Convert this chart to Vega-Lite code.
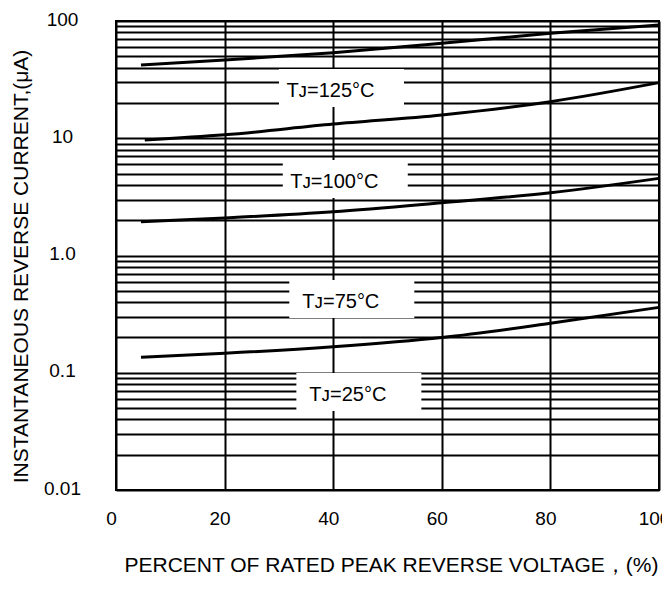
{
  "$schema": "https://vega.github.io/schema/vega-lite/v6.json",
  "autosize": "none",
  "width": 543,
  "height": 469,
  "padding": {"left": 116, "top": 21, "right": 3, "bottom": 102},
  "background": "white",
  "config": {
    "font": "Liberation Sans",
    "view": {"stroke": "black", "strokeWidth": 2}
  },
  "datasets": {
    "curves": [
      {"tj": "125", "pct": 4.6, "ir": 42.2},
      {"tj": "125", "pct": 20, "ir": 46.4},
      {"tj": "125", "pct": 40, "ir": 53.7},
      {"tj": "125", "pct": 60, "ir": 64.5},
      {"tj": "125", "pct": 80, "ir": 78.5},
      {"tj": "125", "pct": 100, "ir": 92.4},
      {"tj": "100", "pct": 5.3, "ir": 9.66},
      {"tj": "100", "pct": 20, "ir": 10.7},
      {"tj": "100", "pct": 40, "ir": 13.2},
      {"tj": "100", "pct": 60, "ir": 15.8},
      {"tj": "100", "pct": 80, "ir": 20.5},
      {"tj": "100", "pct": 100, "ir": 29.8},
      {"tj": "75", "pct": 4.6, "ir": 1.94},
      {"tj": "75", "pct": 20, "ir": 2.09},
      {"tj": "75", "pct": 40, "ir": 2.36},
      {"tj": "75", "pct": 60, "ir": 2.82},
      {"tj": "75", "pct": 80, "ir": 3.43},
      {"tj": "75", "pct": 100, "ir": 4.55},
      {"tj": "25", "pct": 4.6, "ir": 0.1355},
      {"tj": "25", "pct": 20, "ir": 0.1466},
      {"tj": "25", "pct": 40, "ir": 0.167},
      {"tj": "25", "pct": 60, "ir": 0.2},
      {"tj": "25", "pct": 80, "ir": 0.264},
      {"tj": "25", "pct": 100, "ir": 0.361}
    ],
    "labels": [
      {"label": "Tᴊ=125°C", "pct": 39.5, "ir": 25.3},
      {"label": "Tᴊ=100°C", "pct": 40.2, "ir": 4.24},
      {"label": "Tᴊ=75°C", "pct": 41.4, "ir": 0.401},
      {"label": "Tᴊ=25°C", "pct": 42.7, "ir": 0.0646}
    ]
  },
  "encoding": {
    "x": {
      "field": "pct",
      "type": "quantitative",
      "scale": {"domain": [0, 100], "nice": false},
      "axis": {
        "title": "PERCENT OF RATED PEAK REVERSE VOLTAGE，(%)",
        "titleFontSize": 21,
        "titleFontWeight": "normal",
        "titleColor": "black",
        "titleY": 75,
        "titleX": 275,
        "titleBaseline": "middle",
        "values": [0, 20, 40, 60, 80, 100],
        "grid": true,
        "gridColor": "black",
        "gridWidth": 2,
        "gridOpacity": 1,
        "domain": false,
        "ticks": false,
        "tickSize": 0,
        "labelFontSize": 19,
        "labelColor": "black",
        "labelPadding": 28,
        "labelBaseline": "middle",
        "labelFlush": false,
        "labelOffset": -5,
        "zindex": 0
      }
    },
    "y": {
      "field": "ir",
      "type": "quantitative",
      "scale": {"type": "log", "domain": [0.01, 100], "nice": false},
      "axis": {
        "title": "INSTANTANEOUS REVERSE CURRENT,(μA)",
        "titleFontSize": 21,
        "titleFontWeight": "normal",
        "titleColor": "black",
        "titleX": -95,
        "titleY": 245,
        "titleAlign": "center",
        "titleBaseline": "middle",
        "values": [0.01, 0.02, 0.03, 0.04, 0.05, 0.06, 0.07, 0.08, 0.09,
                   0.1, 0.2, 0.3, 0.4, 0.5, 0.6, 0.7, 0.8, 0.9,
                   1, 2, 3, 4, 5, 6, 7, 8, 9,
                   10, 20, 30, 40, 50, 60, 70, 80, 90, 100],
        "labelExpr": "datum.value == 100 ? '100' : datum.value == 10 ? '10' : datum.value == 1 ? '1.0' : datum.value == 0.1 ? '0.1' : datum.value == 0.01 ? '0.01' : ''",
        "labelOverlap": false,
        "grid": true,
        "gridColor": "black",
        "gridWidth": 1.8,
        "gridOpacity": 1,
        "domain": false,
        "ticks": false,
        "tickSize": 0,
        "labelFontSize": 19,
        "labelColor": "black",
        "labelAlign": "center",
        "labelBaseline": "middle",
        "labelPadding": 54,
        "labelOffset": -2,
        "zindex": 0
      }
    }
  },
  "layer": [
    {
      "data": {"name": "labels"},
      "mark": {
        "type": "point",
        "shape": "M-0.824,-0.352H1.176V0.256H-0.824Z",
        "size": 15625,
        "filled": true,
        "color": "white",
        "opacity": 1,
        "strokeWidth": 0
      }
    },
    {
      "data": {"name": "labels"},
      "mark": {
        "type": "text",
        "font": "Liberation Sans",
        "fontSize": 20,
        "align": "center",
        "baseline": "middle",
        "color": "black"
      },
      "encoding": {"text": {"field": "label"}}
    },
    {
      "data": {"name": "curves"},
      "mark": {"type": "line", "color": "black", "strokeWidth": 3, "interpolate": "monotone"},
      "encoding": {"detail": {"field": "tj"}}
    }
  ]
}
